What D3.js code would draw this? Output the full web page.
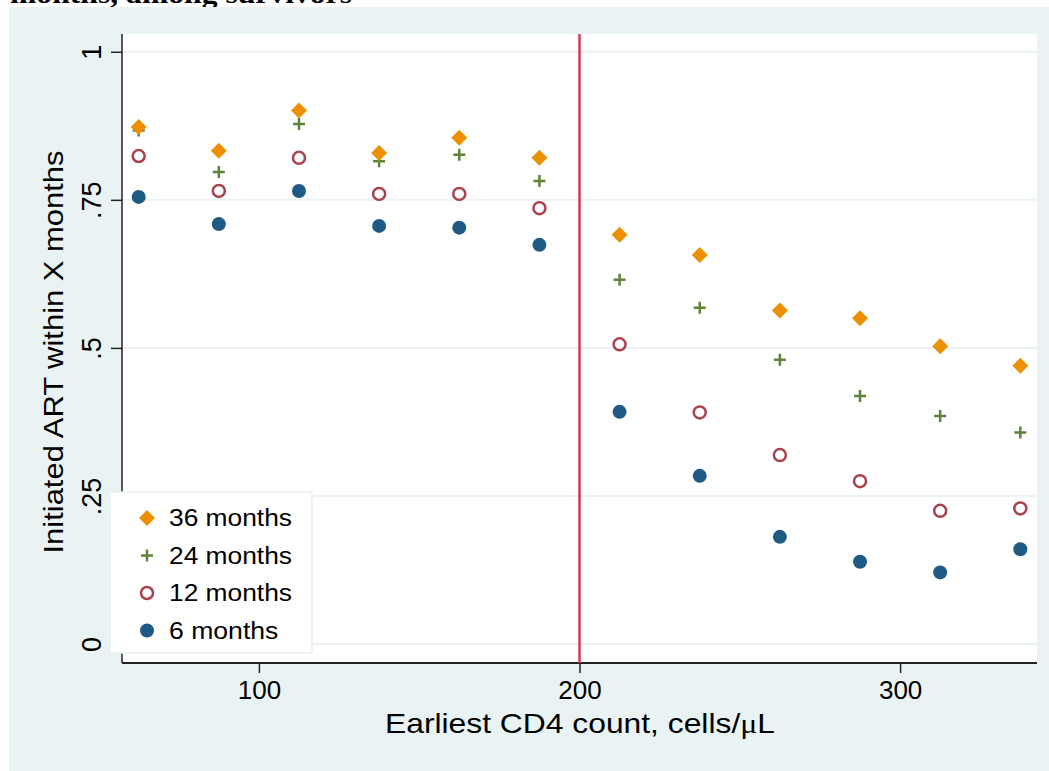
<!DOCTYPE html>
<html>
<head>
<meta charset="utf-8">
<script src="https://cdn.jsdelivr.net/npm/d3@7"></script>
<style>
  body { margin: 0; background: #fff; }
  text { font-family: "Liberation Sans", Arial, Helvetica, sans-serif; fill: #000; }
</style>
</head>
<body>
<div id="chart"></div>
<script>
// CD4 bin midpoints (cells/uL)
var cd4 = [62.5, 87.5, 112.5, 137.5, 162.5, 187.5, 212.5, 237.5, 262.5, 287.5, 312.5, 337.5];

// proportion initiated ART within X months
var m36 = [0.873, 0.833, 0.901, 0.829, 0.855, 0.821, 0.691, 0.657, 0.563, 0.550, 0.503, 0.470];
var m24 = [0.867, 0.797, 0.878, 0.815, 0.826, 0.782, 0.615, 0.568, 0.480, 0.419, 0.385, 0.357];
var m12 = [0.824, 0.765, 0.821, 0.760, 0.760, 0.736, 0.506, 0.391, 0.319, 0.275, 0.225, 0.229];
var m6  = [0.755, 0.709, 0.765, 0.706, 0.703, 0.674, 0.392, 0.284, 0.181, 0.139, 0.121, 0.160];

var xTicks = [100, 200, 300];
var yTicks = [0, 0.25, 0.5, 0.75, 1];
var yTickLabels = ["0", ".25", ".5", ".75", "1"];
var cutoff = 200;

var series = [
  {name: "6 months",  values: m6,  symbol: "dot",     color: "#1f5a85"},
  {name: "12 months", values: m12, symbol: "ring",    color: "#a8434d"},
  {name: "24 months", values: m24, symbol: "plus",    color: "#5f8438"},
  {name: "36 months", values: m36, symbol: "diamond", color: "#ec9000"}
];

var W = 1049, H = 771;
var svg = d3.select('#chart').append('svg')
  .attr('width', W).attr('height', H);

// cut-off title from the page above
svg.append('text')
  .attr('x', 10).attr('y', 3)
  .attr('textLength', 342).attr('lengthAdjust', 'spacingAndGlyphs')
  .style('font-family', '"Liberation Serif", "Times New Roman", serif')
  .style('font-weight', 'bold')
  .style('font-size', '28px')
  .text('months, among survivors');

// outer graph region
svg.append('rect')
  .attr('x', 9).attr('y', 7).attr('width', W - 9).attr('height', H - 7)
  .attr('fill', '#eaf3f3');

var pL = 122, pR = 1037, pT = 34, pB = 663;

svg.append('rect')
  .attr('x', pL).attr('y', pT).attr('width', pR - pL).attr('height', pB - pT)
  .attr('fill', '#fff');

var x = d3.scaleLinear().domain([57.3, 342.7]).range([pL, pR]);
var y = d3.scaleLinear().domain([-0.032, 1.030]).range([pB, pT]);

// gridlines
svg.append('g').selectAll('line')
  .data(yTicks).enter().append('line')
  .attr('x1', pL).attr('x2', pR)
  .attr('y1', function(d) { return y(d); })
  .attr('y2', function(d) { return y(d); })
  .attr('stroke', '#eaf2f3')
  .attr('stroke-width', 2);

// axes
var yAxis = svg.append('g')
  .attr('transform', 'translate(' + pL + ',0)')
  .call(d3.axisLeft(y).tickValues(yTicks).tickSize(11).tickPadding(0)
        .tickFormat(function(d, i) { return yTickLabels[i]; }));
yAxis.select('.domain').attr('d', 'M0,' + pT + 'V' + pB).attr('stroke', '#222').attr('stroke-width', 1.5);
yAxis.selectAll('.tick line').attr('stroke', '#222').attr('stroke-width', 1.5);
yAxis.selectAll('.tick text')
  .attr('x', 0).attr('dy', 0)
  .attr('transform', 'translate(-21,0) rotate(-90)')
  .attr('text-anchor', 'middle')
  .style('font-size', '27px')
  .style('font-family', '"Liberation Sans", Arial, sans-serif')
  .attr('fill', '#000');

var xAxis = svg.append('g')
  .attr('transform', 'translate(0,' + pB + ')')
  .call(d3.axisBottom(x).tickValues(xTicks).tickSize(10).tickPadding(8));
xAxis.select('.domain').attr('d', 'M' + pL + ',0H' + pR).attr('stroke', '#222').attr('stroke-width', 2);
xAxis.selectAll('.tick line').attr('stroke', '#222').attr('stroke-width', 1.5);
xAxis.selectAll('.tick text')
  .style('font-size', '26px')
  .style('font-family', '"Liberation Sans", Arial, sans-serif')
  .attr('fill', '#000');

// axis titles
svg.append('text')
  .attr('x', 580).attr('y', 733)
  .attr('text-anchor', 'middle')
  .attr('textLength', 390).attr('lengthAdjust', 'spacingAndGlyphs')
  .style('font-size', '28px')
  .html('Earliest CD4 count, cells/<tspan style="font-family:\'Liberation Serif\',serif">&#956;</tspan>L');

svg.append('text')
  .attr('transform', 'translate(63,' + 352 + ') rotate(-90)')
  .attr('text-anchor', 'middle')
  .attr('textLength', 403).attr('lengthAdjust', 'spacingAndGlyphs')
  .style('font-size', '28px')
  .text('Initiated ART within X months');

// cut-off line
svg.append('line')
  .attr('x1', x(cutoff)).attr('x2', x(cutoff))
  .attr('y1', pT).attr('y2', pB)
  .attr('stroke', '#d3385a').attr('stroke-width', 2.5);

// markers
function drawSymbol(sel, symbol, color) {
  if (symbol === 'dot') {
    sel.append('circle').attr('r', 7).attr('fill', color);
  } else if (symbol === 'ring') {
    sel.append('circle').attr('r', 6).attr('fill', 'none').attr('stroke', color).attr('stroke-width', 2.5);
  } else if (symbol === 'plus') {
    sel.append('path').attr('d', 'M-6,0H6M0,-6V6').attr('stroke', color).attr('stroke-width', 2.5).attr('fill', 'none');
  } else {
    sel.append('path').attr('d', 'M0,-8L8,0L0,8L-8,0Z').attr('fill', color);
  }
}

series.forEach(function(s) {
  var g = svg.append('g').attr('class', 'series');
  s.values.forEach(function(v, i) {
    var p = g.append('g').attr('transform', 'translate(' + x(cd4[i]) + ',' + y(v) + ')');
    drawSymbol(p, s.symbol, s.color);
  });
});

// legend
var legend = svg.append('g');
legend.append('rect')
  .attr('x', 110).attr('y', 492).attr('width', 202).attr('height', 161)
  .attr('fill', '#fff').attr('stroke', '#e8f1f2').attr('stroke-width', 1.5);

series.slice().reverse().forEach(function(s, i) {
  var row = legend.append('g').attr('transform', 'translate(0,' + (518 + i * 37.5) + ')');
  drawSymbol(row.append('g').attr('transform', 'translate(147,0)'), s.symbol, s.color);
  row.append('text')
    .attr('x', 169).attr('y', 0).attr('dy', '0.36em')
    .attr('textLength', s.name.length * 13.67)
    .attr('lengthAdjust', 'spacingAndGlyphs')
    .style('font-size', '23px')
    .text(s.name);
});
</script>
</body>
</html>
